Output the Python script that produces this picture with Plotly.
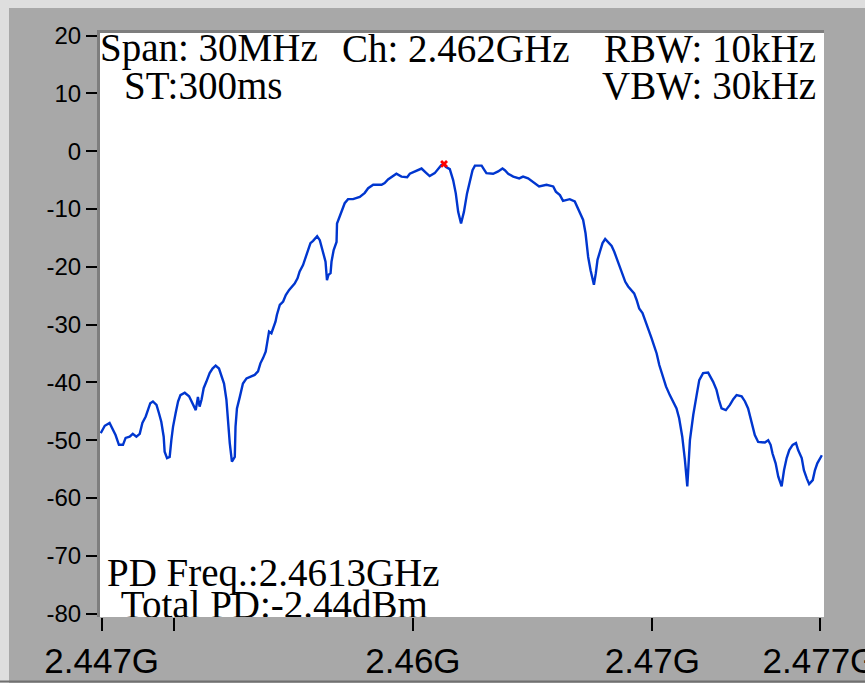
import plotly.graph_objects as go

# ---- data ----
freq_mhz = [
    2446.96, 2447.13, 2447.33, 2447.45, 2447.58, 2447.72, 2447.89, 2448.00, 2448.17, 2448.30,
    2448.45, 2448.59, 2448.70, 2448.84, 2448.93, 2449.03, 2449.14, 2449.29, 2449.39, 2449.49,
    2449.59, 2449.63, 2449.73, 2449.84, 2449.91, 2449.98, 2450.09, 2450.19, 2450.29, 2450.47,
    2450.65, 2450.75, 2450.84, 2450.93, 2451.02, 2451.09, 2451.17, 2451.26, 2451.37, 2451.51,
    2451.63, 2451.76, 2451.90, 2452.00, 2452.11, 2452.21, 2452.28, 2452.35, 2452.44, 2452.56,
    2452.59, 2452.65, 2452.77, 2452.90, 2453.05, 2453.25, 2453.39, 2453.53, 2453.63, 2453.74,
    2453.85,
    2453.91, 2453.99, 2454.09, 2454.16, 2454.26, 2454.32, 2454.44, 2454.58, 2454.69, 2454.83,
    2454.97, 2455.06, 2455.18, 2455.27, 2455.41, 2455.52, 2455.62, 2455.72, 2455.83, 2455.91,
    2456.00, 2456.11, 2456.22, 2456.35, 2456.41, 2456.47, 2456.56, 2456.60, 2456.69, 2456.81,
    2456.83, 2456.94, 2457.06, 2457.15, 2457.29,
    2457.50, 2457.78, 2457.99, 2458.13, 2458.34, 2458.69, 2458.82, 2458.96, 2459.15, 2459.31,
    2459.52, 2459.76, 2459.87, 2460.12, 2460.36, 2460.54, 2460.70, 2460.91, 2461.05, 2461.19,
    2461.30, 2461.37, 2461.54, 2461.68, 2461.79, 2461.89, 2462.01, 2462.13, 2462.26, 2462.38,
    2462.49, 2462.59, 2462.87, 2462.96, 2463.07, 2463.35, 2463.56, 2463.74, 2463.84, 2463.98,
    2464.19, 2464.44, 2464.60, 2464.81, 2465.02, 2465.27, 2465.58, 2465.86, 2465.97, 2466.14,
    2466.27, 2466.48,
    2466.55, 2466.76, 2466.90, 2467.00, 2467.11, 2467.21, 2467.25, 2467.32, 2467.42, 2467.50,
    2467.56, 2467.64, 2467.71, 2467.81, 2467.92, 2468.03, 2468.16, 2468.30, 2468.41, 2468.53,
    2468.64, 2468.76, 2468.87, 2468.99, 2469.13, 2469.24, 2469.34, 2469.45, 2469.59, 2469.70,
    2469.83, 2469.97, 2470.06, 2470.18,
    2470.29, 2470.43, 2470.57, 2470.73, 2470.87, 2471.01, 2471.12, 2471.25, 2471.36, 2471.46,
    2471.57, 2471.71, 2471.85, 2471.96, 2472.12, 2472.33, 2472.54, 2472.68, 2472.78, 2472.89,
    2473.07, 2473.24, 2473.38, 2473.52, 2473.73, 2473.87, 2474.00, 2474.08, 2474.19, 2474.28,
    2474.42, 2474.70, 2474.84, 2474.94, 2475.02, 2475.15, 2475.26, 2475.40, 2475.50, 2475.61,
    2475.72, 2475.86, 2476.00, 2476.09, 2476.24, 2476.33, 2476.45, 2476.55, 2476.70, 2476.79,
    2476.89, 2477.00, 2477.08,
]

level_dbm = [
    -48.8, -47.5, -47.0, -47.9, -49.1, -50.8, -50.8, -49.6, -49.4, -48.9,
    -49.4, -48.9, -47.0, -45.9, -44.8, -43.6, -43.3, -43.9, -45.3, -46.8,
    -49.4, -52.0, -53.1, -52.9, -50.0, -47.7, -45.3, -43.3, -42.2, -41.8,
    -42.4, -43.3, -44.2, -44.8, -42.5, -44.2, -43.0, -41.0, -39.9, -38.4,
    -37.6, -37.1, -37.6, -38.7, -40.2, -43.0, -47.7, -50.5, -53.7, -52.9,
    -47.7, -44.5, -42.5, -40.2, -39.3, -39.0, -38.7, -38.1, -36.7, -35.8,
    -34.7,
    -33.2, -31.2, -31.5, -30.6, -29.5, -28.3, -26.6, -26.0, -24.9, -24.0,
    -23.4, -22.9, -22.0, -20.8, -19.7, -18.4, -17.0, -15.9, -15.5, -15.1,
    -14.7, -15.4, -17.1, -19.1, -22.3, -21.4, -21.1, -19.1, -17.1, -15.7,
    -12.5, -11.3, -9.9, -9.0, -8.3,
    -8.3, -7.9, -7.2, -6.4, -5.8, -5.8, -5.5, -4.9, -4.4, -3.9,
    -4.4, -4.5, -3.9, -3.5, -3.0, -3.7, -4.3, -3.8, -3.0, -2.4,
    -2.2, -2.7, -3.1, -5.0, -7.3, -10.5, -12.5, -10.5, -7.3, -5.0,
    -3.3, -2.5, -2.5, -3.1, -3.8, -3.9, -3.5, -3.0, -3.3, -3.9,
    -4.4, -4.7, -4.4, -4.7, -5.3, -6.1, -5.8, -6.1, -7.0, -7.6,
    -8.6, -8.4,
    -8.3, -8.7, -9.9, -10.7, -11.9, -14.2, -15.9, -18.3, -20.6, -22.0,
    -23.1, -21.1, -18.8, -17.4, -15.9, -15.2, -15.7, -16.4, -17.4, -18.8,
    -20.3, -21.6, -22.6, -23.4, -24.0, -24.6, -25.7, -27.2, -28.0, -29.2,
    -30.6, -32.4, -33.5, -35.0,
    -37.0, -38.7, -40.7, -42.2, -43.3, -44.5, -46.2, -49.4, -53.4, -58.0,
    -50.0, -45.6, -42.2, -39.6, -38.4, -38.3, -39.9, -41.3, -43.0, -44.5,
    -44.8, -43.9, -42.9, -42.2, -42.4, -43.3, -44.5, -45.9, -47.5, -49.1,
    -50.3, -50.4, -50.0, -50.8, -52.3, -54.0, -56.3, -58.0, -55.2, -53.1,
    -51.7, -50.8, -50.5, -51.7, -53.1, -55.2, -56.6, -57.6, -56.9, -55.2,
    -54.0, -53.1, -52.6,
]

peak_freq_mhz = [2461.3]
peak_level_dbm = [-2.2]

x_tick_vals = [2447, 2450, 2460, 2470, 2477]
x_tick_text = ["2.447G", "", "2.46G", "2.47G", "2.477G"]
y_tick_vals = [20, 10, 0, -10, -20, -30, -40, -50, -60, -70, -80]
y_tick_text = ["20", "10", "0", "-10", "-20", "-30", "-40", "-50", "-60", "-70", "-80"]

info_span = "Span: 30MHz"
info_ch = "Ch: 2.462GHz"
info_rbw = "RBW: 10kHz"
info_st = "ST:300ms"
info_vbw = "VBW: 30kHz"
info_pd_freq = "PD Freq.:2.4613GHz"
info_total_pd = "Total PD:-2.44dBm"

# ---- figure ----
W, H = 865, 683
ML, MR, MT, MB = 100, 41, 33, 66
PW, PH = W - ML - MR, H - MT - MB


def px(xp):
    return (xp - ML) / PW


def py(yp):
    return (H - MB - yp) / PH


serif = "Liberation Serif"
sans = "Liberation Sans"

fig = go.Figure()
fig.add_trace(go.Scatter(
    x=freq_mhz, y=level_dbm, mode="lines",
    line=dict(color="#0036CF", width=2.4),
    hoverinfo="skip", showlegend=False,
))
fig.add_trace(go.Scatter(
    x=peak_freq_mhz, y=peak_level_dbm, mode="markers",
    marker=dict(symbol="x", size=7, color="#FF0000", line=dict(width=0)),
    showlegend=False, hoverinfo="skip",
))
fig.add_trace(go.Scatter(
    x=[2447.80], y=[-79.1], mode="text", text=[info_total_pd],
    textposition="middle right", cliponaxis=True,
    textfont=dict(family=serif, size=39, color="black"),
    showlegend=False, hoverinfo="skip",
))

annots = [
    (info_span, px(98), py(48), "left"),
    (info_ch, px(340), py(48), "left"),
    (info_rbw, px(818), py(48), "right"),
    (info_st, px(122), py(86), "left"),
    (info_vbw, px(818), py(86), "right"),
    (info_pd_freq, px(105), py(573), "left"),
]
for txt, xx, yy, anc in annots:
    fig.add_annotation(
        text=txt, x=xx, y=yy, xref="paper", yref="paper",
        xanchor=anc, yanchor="middle", showarrow=False,
        font=dict(family=serif, size=39, color="black"),
    )

shapes = [
    # light outer bevel (top and left)
    dict(type="rect", xref="paper", yref="paper", x0=px(0), x1=px(W), y0=py(8), y1=py(0),
         fillcolor="#DEDEDE", line=dict(width=0), layer="below"),
    dict(type="rect", xref="paper", yref="paper", x0=px(0), x1=px(9), y0=py(H), y1=py(0),
         fillcolor="#DEDEDE", line=dict(width=0), layer="below"),
    # bottom dark line
    dict(type="line", xref="paper", yref="paper", x0=px(0), x1=px(W), y0=py(681.5), y1=py(681.5),
         line=dict(color="#707070", width=2), layer="below"),
    # sunken frame of plot area (top and left)
    dict(type="line", xref="paper", yref="paper", x0=px(98.5), x1=px(98.5), y0=py(617), y1=py(30),
         line=dict(color="#7E7E7E", width=3), layer="above"),
    dict(type="line", xref="paper", yref="paper", x0=px(97), x1=px(824), y0=py(31.5), y1=py(31.5),
         line=dict(color="#7E7E7E", width=3), layer="above"),
]

fig.update_layout(
    width=W, height=H,
    margin=dict(l=ML, r=MR, t=MT, b=MB, pad=0),
    paper_bgcolor="#A8A8A8",
    plot_bgcolor="#FFFFFF",
    showlegend=False,
    shapes=shapes,
    xaxis=dict(
        range=[2446.93, 2477.17], tickmode="array", tickvals=x_tick_vals, ticktext=x_tick_text,
        ticks="outside", ticklen=13, tickwidth=2, tickcolor="black",
        showgrid=False, zeroline=False, showline=False, automargin=False,
        ticklabeloverflow="allow",
        tickfont=dict(family=sans, size=35, color="black"),
    ),
    yaxis=dict(
        range=[-80.59, 20.45], tickmode="array", tickvals=y_tick_vals, ticktext=y_tick_text,
        ticks="outside", ticklen=13, tickwidth=2, tickcolor="black",
        showgrid=False, zeroline=False, showline=False, automargin=False,
        tickfont=dict(family=sans, size=24, color="black"),
    ),
)

fig.write_html(
    "out.html",
    config={"displayModeBar": False},
    post_script="document.body.style.margin='0';document.body.style.padding='0';",
)
